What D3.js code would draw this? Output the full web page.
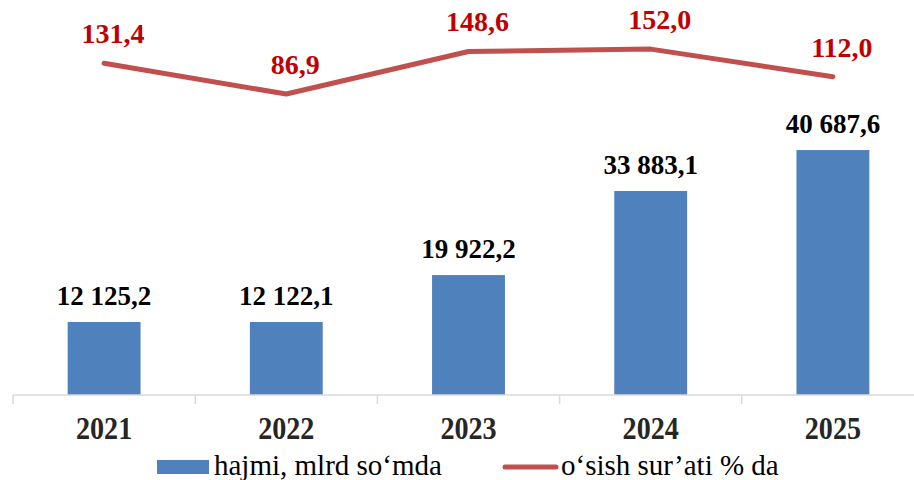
<!DOCTYPE html>
<html>
<head>
<meta charset="utf-8">
<script src="https://cdn.jsdelivr.net/npm/d3@7"></script>
<style>
  body { margin: 0; background: #fff; }
</style>
</head>
<body>
<div id="wrapper"></div>
<script>
const years = ["2021", "2022", "2023", "2024", "2025"];
const volume = [12125.2, 12122.1, 19922.2, 33883.1, 40687.6];
const growth = [131.4, 86.9, 148.6, 152.0, 112.0];
const volumeLabels = ["12 125,2", "12 122,1", "19 922,2", "33 883,1", "40 687,6"];
const growthLabels = ["131,4", "86,9", "148,6", "152,0", "112,0"];
const legendNames = ["hajmi, mlrd so‘mda", "o‘sish sur’ati % da"];

const width = 914, height = 480;
const axisY = 395;
const font = "'Liberation Serif', 'Times New Roman', Times, serif";

const svg = d3.select("#wrapper").append("svg")
  .attr("width", width)
  .attr("height", height)
  .attr("font-family", font);

const x = d3.scaleBand()
  .domain(years)
  .range([13, 924])
  .paddingInner(0.6)
  .paddingOuter(0.3);

const y = d3.scaleLinear().domain([0, 50000]).range([axisY, 94]);
const y2 = d3.scaleLinear().domain([0, 200]).range([154, 16]);

// bars
svg.append("g")
  .selectAll("rect")
  .data(years)
  .join("rect")
  .attr("x", d => x(d))
  .attr("y", (d, i) => y(volume[i]))
  .attr("width", x.bandwidth())
  .attr("height", (d, i) => y(0) - y(volume[i]))
  .attr("fill", "#4F81BD");

// axis line + category boundary ticks
const step = x.step();
const bounds = years.map(d => x(d) - x.bandwidth() * 0.75);
bounds.push(bounds[bounds.length - 1] + step);
svg.append("line")
  .attr("x1", bounds[0]).attr("x2", width)
  .attr("y1", axisY).attr("y2", axisY)
  .attr("stroke", "#d9d9d9").attr("stroke-width", 1.5);
svg.append("g")
  .selectAll("line")
  .data(bounds)
  .join("line")
  .attr("x1", d => d).attr("x2", d => d)
  .attr("y1", axisY).attr("y2", axisY + 9)
  .attr("stroke", "#d9d9d9").attr("stroke-width", 1.5);

svg.append("g")
  .selectAll("text")
  .data(years)
  .join("text")
  .attr("transform", d => `translate(${x(d) + x.bandwidth() / 2},439) scale(0.97,1.12)`)
  .attr("text-anchor", "middle")
  .attr("font-size", 29)
  .attr("font-weight", "bold")
  .attr("fill", "#262626")
  .text(d => d);

// bar labels
svg.append("g")
  .selectAll("text")
  .data(years)
  .join("text")
  .attr("x", d => x(d) + x.bandwidth() / 2)
  .attr("y", (d, i) => y(volume[i]) - 17)
  .attr("text-anchor", "middle")
  .attr("font-size", 27)
  .attr("font-weight", "bold")
  .attr("fill", "#000")
  .text((d, i) => volumeLabels[i]);

// growth line
const line = d3.line()
  .x((d, i) => x(years[i]) + x.bandwidth() / 2)
  .y(d => y2(d));

svg.append("path")
  .datum(growth)
  .attr("d", line)
  .attr("fill", "none")
  .attr("stroke", "#C0504D")
  .attr("stroke-width", 5)
  .attr("stroke-linecap", "round")
  .attr("stroke-linejoin", "round");

svg.append("g")
  .selectAll("text")
  .data(growth)
  .join("text")
  .attr("x", (d, i) => x(years[i]) + x.bandwidth() / 2 + 9)
  .attr("y", d => y2(d) - 20)
  .attr("text-anchor", "middle")
  .attr("font-size", 28)
  .attr("font-weight", "bold")
  .attr("fill", "#C00000")
  .text((d, i) => growthLabels[i]);

// legend
const legend = svg.append("g");
legend.append("rect")
  .attr("x", 157).attr("y", 460)
  .attr("width", 52).attr("height", 14)
  .attr("fill", "#4F81BD");
legend.append("text")
  .attr("x", 214).attr("y", 475)
  .attr("font-size", 29)
  .attr("fill", "#000")
  .text(legendNames[0]);
legend.append("line")
  .attr("x1", 505).attr("x2", 556)
  .attr("y1", 467).attr("y2", 467)
  .attr("stroke", "#C0504D")
  .attr("stroke-width", 5)
  .attr("stroke-linecap", "round");
legend.append("text")
  .attr("x", 561).attr("y", 475)
  .attr("font-size", 29)
  .attr("fill", "#000")
  .text(legendNames[1]);
</script>
</body>
</html>
